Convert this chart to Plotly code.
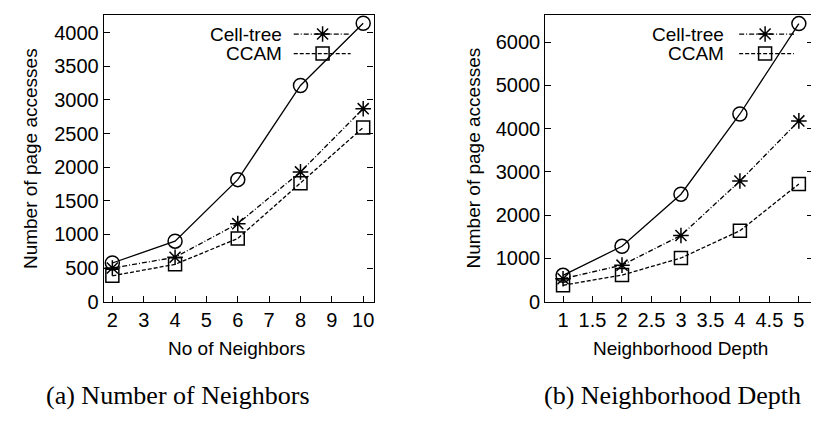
import plotly.graph_objects as go

# ---------------- data ----------------
neighbors = [2, 4, 6, 8, 10]
baseline_a = [575, 900, 1815, 3215, 4140]
celltree_a = [500, 660, 1160, 1930, 2870]
ccam_a = [385, 555, 940, 1760, 2590]

depth = [1, 2, 3, 4, 5]
baseline_b = [610, 1280, 2485, 4340, 6430]
celltree_b = [530, 845, 1530, 2790, 4180]
ccam_b = [380, 615, 1010, 1640, 2720]

legend_names = ["Cell-tree", "CCAM"]
xtitles = ["No of Neighbors", "Neighborhood Depth"]
ytitle = "Number of page accesses"
captions = ["(a) Number of Neighbors", "(b) Neighborhood Depth"]

# ---------------- layout constants ----------------
W, H = 819, 424
SANS = "Liberation Sans, Arial, Helvetica, sans-serif"
SERIF = "Liberation Serif, Times New Roman, serif"
FS = 19
TFS = 20
DASHDOT = "5px,2px,1px,2px"
DASH = "4px,2px"

def px(x):
    return x / W

def py(y):
    return 1 - y / H

left_dom = [px(96), px(366)]
right_dom = [px(538), px(806)]
y_dom = [py(301.5), py(6.7)]

fig = go.Figure()

styles = [
    dict(dash="solid", symbol="circle-open", size=14),
    dict(dash=DASHDOT, symbol="asterisk-open", size=13),
    dict(dash=DASH, symbol="square-open", size=13),
]

def add_series(x, ys, xa, ya):
    for yv, st in zip(ys, styles):
        fig.add_trace(go.Scatter(
            x=x, y=yv, xaxis=xa, yaxis=ya, mode="lines+markers",
            line=dict(color="black", width=1.3, dash=st["dash"]),
            marker=dict(symbol=st["symbol"], size=st["size"], color="black",
                        line=dict(color="black", width=1.5)),
            showlegend=False, hoverinfo="skip"))

add_series(neighbors, [baseline_a, celltree_a, ccam_a], "x", "y")
add_series(depth, [baseline_b, celltree_b, ccam_b], "x2", "y2")

# legend keys drawn on overlay axes (0..1 within each plot)
leg_geom = [
    # (xaxis, yaxis, text_right, line_x0, line_x1, marker_x)
    ("x3", "y3", 0.667, 0.704, 0.915, 0.811),
    ("x4", "y4", 0.675, 0.724, 0.929, 0.821),
]
leg_rows = [0.932, 0.864]
annotations = []
for xa, ya, tr, lx0, lx1, mx in leg_geom:
    for name, st, ry in zip(legend_names, styles[1:], leg_rows):
        fig.add_trace(go.Scatter(
            x=[lx0, lx1], y=[ry, ry], xaxis=xa, yaxis=ya, mode="lines",
            line=dict(color="black", width=1.3, dash=st["dash"]),
            showlegend=False, hoverinfo="skip"))
        fig.add_trace(go.Scatter(
            x=[mx], y=[ry], xaxis=xa, yaxis=ya, mode="markers",
            marker=dict(symbol=st["symbol"], size=st["size"], color="black",
                        line=dict(color="black", width=1.5)),
            showlegend=False, hoverinfo="skip"))
        annotations.append(dict(
            x=tr, y=ry, xref=xa, yref=ya, text=name, showarrow=False,
            xanchor="right", yanchor="middle",
            font=dict(family=SANS, size=FS, color="black")))

def label(x, y, text, font, angle=0):
    return dict(x=x, y=y, xref="paper", yref="paper", text=text,
                textangle=angle, showarrow=False, xanchor="center",
                yanchor="middle", font=font)

sans = dict(family=SANS, size=FS, color="black")
serif = dict(family=SERIF, size=26, color="black")
ymid = (y_dom[0] + y_dom[1]) / 2
annotations += [
    label(px(22), ymid, ytitle, sans, -90),
    label(px(466), ymid, ytitle, sans, -90),
    label(px(229), py(350), xtitles[0], sans),
    label(px(673), py(350), xtitles[1], sans),
    label(px(170), py(398), captions[0], serif),
    label(px(665), py(398), captions[1], serif),
]

axis_common = dict(
    showline=True, linecolor="black", linewidth=1.3, showgrid=False,
    zeroline=False, ticks="inside", ticklen=6, tickcolor="black", tickwidth=1,
    tickfont=dict(family=SANS, size=TFS, color="black"),
)

hidden = dict(range=[0, 1], visible=False, fixedrange=True)

fig.update_layout(
    width=W, height=H, margin=dict(l=0, r=0, t=0, b=0),
    paper_bgcolor="white", plot_bgcolor="white",
    xaxis=dict(domain=left_dom, range=[1.73, 10.33], dtick=1, tick0=0,
               mirror=True, anchor="y", **axis_common),
    yaxis=dict(domain=y_dom, range=[0, 4270], dtick=500, tick0=0,
               mirror="ticks", anchor="x", **axis_common),
    xaxis2=dict(domain=right_dom, range=[0.70, 5.24], dtick=0.5, tick0=0,
                mirror=True, anchor="y2", **axis_common),
    yaxis2=dict(domain=y_dom, range=[0, 6640], dtick=1000, tick0=0,
                mirror="ticks", anchor="x2", **axis_common),
    xaxis3=dict(overlaying="x", anchor="y3", **hidden),
    yaxis3=dict(overlaying="y", anchor="x3", **hidden),
    xaxis4=dict(overlaying="x2", anchor="y4", **hidden),
    yaxis4=dict(overlaying="y2", anchor="x4", **hidden),
    annotations=annotations,
    showlegend=False,
)

fig.write_html("out.html")
